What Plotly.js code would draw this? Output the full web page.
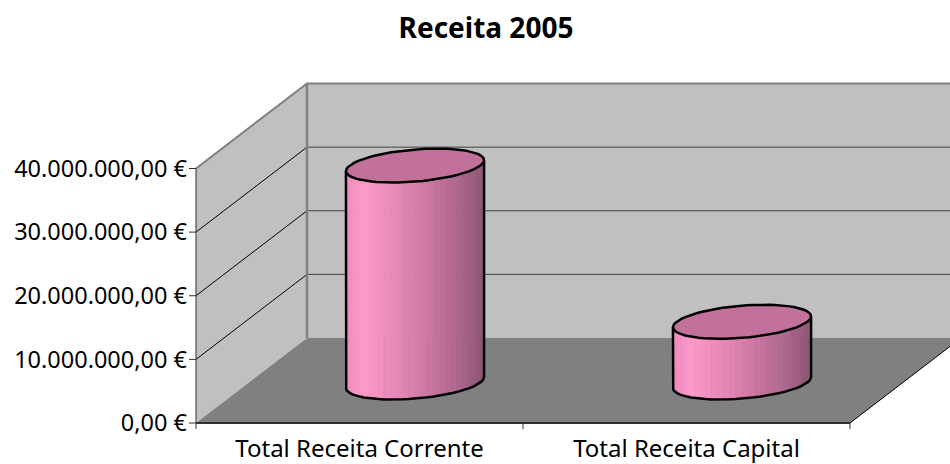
<!DOCTYPE html>
<html>
<head>
<meta charset="utf-8">
<script src="https://cdn.plot.ly/plotly-3.0.1.min.js"></script>
<style>html,body{margin:0;padding:0;background:#fff}</style>
</head>
<body>
<div id="chart" style="width:950px;height:464px"></div>
<script>
const categories = ["Total Receita Corrente", "Total Receita Capital"];
const values = [34100000, 9550000];
const yTickValues = [0, 10000000, 20000000, 30000000, 40000000];
const yTickLabels = ["0,00 €", "10.000.000,00 €", "20.000.000,00 €", "30.000.000,00 €", "40.000.000,00 €"];
const chartTitle = "Receita 2005";

// axis extents and oblique projection, in axis units
const yMax = 40000000, xMax = 2;
const perPxX = xMax / 654, perPxY = yMax / 254.5;
const depthX = 111 * perPxX, depthY = 85 * perPxY;
const radX = 0.2, radDepth = 0.2;   // cylinder radius across / along depth
const baseDepthY = 0.476;
const tickX = 7 * perPxX, tickY = 6 * perPxY;

const FONT = "'Noto Sans', sans-serif";
const traces = [];
function poly(xs, ys, fill, line, width) {
  traces.push({
    type: "scatter", mode: (line ? "lines" : "none"), x: xs, y: ys,
    fill: fill ? "toself" : "none", fillcolor: fill || undefined,
    line: line ? {color: line, width: width || 1} : undefined,
    hoverinfo: "skip", showlegend: false
  });
}

// left wall, back wall, floor
poly([0, depthX, depthX, 0, 0], [0, depthY, yMax + depthY, yMax, 0], "#C0C0C0");
poly([depthX, xMax + depthX, xMax + depthX, depthX, depthX], [depthY, depthY, yMax + depthY, yMax + depthY, depthY], "#C0C0C0");
poly([0, xMax, xMax + depthX, depthX, 0], [0, 0, depthY, depthY, 0], "#808080");

// gridlines
yTickValues.slice(1, -1).forEach(v => {
  poly([0, depthX], [v, v + depthY], null, "#000000", 1);
  poly([depthX, xMax + depthX], [v + depthY, v + depthY], null, "#404040", 1);
});
// wall frame
poly([0, depthX, xMax + depthX], [yMax, yMax + depthY, yMax + depthY], null, "#808080", 2);
poly([depthX, depthX], [depthY, yMax + depthY], null, "#808080", 2.5);
// floor right edge
poly([xMax, xMax + depthX], [0, depthY], null, "#000000", 1);
// axis lines and ticks
poly([0, 0], [0, yMax], null, "#303030", 1);
poly([0, xMax], [0, 0], null, "#303030", 2);
yTickValues.forEach(v => poly([-tickX, 0], [v, v], null, "#303030", 1));
[0, 1, 2].forEach(v => poly([v, v], [0, -tickY], null, "#303030", 1));

function shade(f) {
  const stops = [[0, [238,140,188]], [0.13, [255,153,204]], [0.5, [216,126,172]], [0.8, [176,104,144]], [1, [140,84,116]]];
  for (let i = 1; i < stops.length; i++) {
    if (f <= stops[i][0]) {
      const a = stops[i-1], b = stops[i], t = (f - a[0]) / (b[0] - a[0]);
      return "rgb(" + a[1].map((c, k) => Math.round(c + (b[1][k] - c) * t)).join(",") + ")";
    }
  }
  return "rgb(140,84,116)";
}

categories.forEach((c, i) => {
  const cx = i + 0.5 + depthX / 2;
  const by = baseDepthY * depthY;
  const ty = by + values[i];
  const ex = t => cx + radX * Math.cos(t) + radDepth * depthX * Math.sin(t);
  const ey = (t, y0) => y0 + radDepth * depthY * Math.sin(t);
  // angle at which the silhouette touches the sides
  const t0 = Math.atan2(radDepth * depthX, radX);
  const N = 34;
  // front arc runs from the left tangent to the right tangent through the lower side
  const angs = [];
  for (let k = 0; k <= N; k++) angs.push(t0 + Math.PI + Math.PI * k / N);
  const xL = ex(angs[0]), xR = ex(angs[N]);
  for (let k = 0; k < N; k++) {
    const a = angs[k], b = angs[k + 1];
    const mid = (ex(a) + ex(b)) / 2;
    const col = shade((mid - xL) / (xR - xL));
    poly([ex(a), ex(b), ex(b), ex(a), ex(a)],
         [ey(a, by), ey(b, by), ey(b, ty), ey(a, ty), ey(a, by)], col, col, 0.6);
  }
  // body outline
  const ox = [ex(angs[0])], oy = [ey(angs[0], ty)];
  angs.forEach(a => { ox.push(ex(a)); oy.push(ey(a, by)); });
  ox.push(ex(angs[N])); oy.push(ey(angs[N], ty));
  poly(ox, oy, null, "#000000", 2.5);
  // top cap
  const cxs = [], cys = [];
  for (let k = 0; k <= 72; k++) { const a = 2 * Math.PI * k / 72; cxs.push(ex(a)); cys.push(ey(a, ty)); }
  poly(cxs, cys, "#C1719B", "#000000", 2.5);
});

const marginL = 188, marginB = 32;
const layout = {
  width: 950, height: 464,
  paper_bgcolor: "#fff", plot_bgcolor: "rgba(0,0,0,0)",
  margin: {l: marginL, r: 0, t: 0, b: marginB, pad: 0},
  showlegend: false, hovermode: false,
  title: {text: "<b>" + chartTitle + "</b>", x: 486 / 950, xref: "container", xanchor: "center",
          y: 1 - 28 / 464, yref: "container", yanchor: "middle",
          font: {family: FONT, size: 28, color: "#000"}},
  xaxis: {
    range: [(marginL - 196) * perPxX, (950 - 196) * perPxX],
    showgrid: false, zeroline: false, showline: false,
    tickmode: "array", tickvals: categories.map((c, i) => i + 0.5), ticktext: categories,
    ticks: "", tickangle: 0,
    tickfont: {family: FONT, size: 24, color: "#000"}
  },
  yaxis: {
    range: [-(464 - marginB - 423) * perPxY, 423 * perPxY],
    showgrid: false, zeroline: false, showline: false,
    tickmode: "array", tickvals: yTickValues, ticktext: yTickLabels,
    ticks: "",
    tickfont: {family: FONT, size: 23.5, color: "#000"}
  }
};
Plotly.newPlot("chart", traces, layout, {displayModeBar: false, staticPlot: true});
</script>
</body>
</html>
